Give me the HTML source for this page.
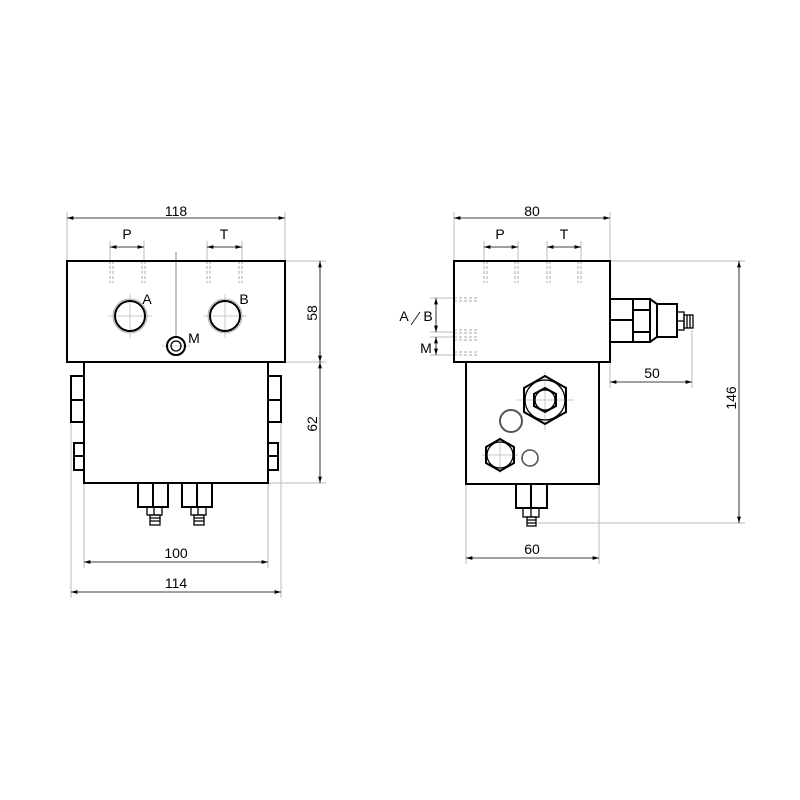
<!DOCTYPE html>
<html><head><style>body{margin:0;background:#fff}svg{display:block}</style></head><body>
<svg width="800" height="800" viewBox="0 0 800 800" xmlns="http://www.w3.org/2000/svg" font-family="Liberation Sans, sans-serif" font-size="14">
<defs>
<marker id="a" viewBox="0 0 10 6" refX="10" refY="3" markerWidth="8" markerHeight="5" orient="auto-start-reverse"><path d="M0,0L10,3L0,6z" fill="#000"/></marker>
</defs>
<rect width="800" height="800" fill="#fff"/>
<g stroke="#bbb" stroke-width="1" fill="none">
<line x1="67" y1="212" x2="67" y2="261"/><line x1="285" y1="212" x2="285" y2="261"/>
<line x1="285" y1="261" x2="326" y2="261"/><line x1="285" y1="362" x2="326" y2="362"/><line x1="268" y1="483" x2="326" y2="483"/>
<line x1="84" y1="483" x2="84" y2="568"/><line x1="268" y1="470" x2="268" y2="568"/>
<line x1="71" y1="422" x2="71" y2="598"/><line x1="281" y1="422" x2="281" y2="598"/>
<line x1="110" y1="241" x2="110" y2="261"/><line x1="144" y1="241" x2="144" y2="261"/>
<line x1="207" y1="241" x2="207" y2="261"/><line x1="242" y1="241" x2="242" y2="261"/>
<line x1="176" y1="252" x2="176" y2="338" stroke="#888"/>
<line x1="454" y1="212" x2="454" y2="261"/><line x1="610" y1="212" x2="610" y2="261"/>
<line x1="610" y1="261" x2="745" y2="261"/><line x1="538" y1="523" x2="745" y2="523"/>
<line x1="610" y1="362" x2="610" y2="388"/><line x1="692" y1="330" x2="692" y2="388"/>
<line x1="466" y1="484" x2="466" y2="564"/><line x1="599" y1="484" x2="599" y2="564"/>
<line x1="430" y1="298" x2="454" y2="298"/><line x1="430" y1="332" x2="454" y2="332"/>
<line x1="430" y1="337" x2="454" y2="337"/><line x1="430" y1="355" x2="454" y2="355"/>
<line x1="484" y1="241" x2="484" y2="261"/><line x1="518" y1="241" x2="518" y2="261"/>
<line x1="547" y1="241" x2="547" y2="261"/><line x1="581" y1="241" x2="581" y2="261"/>
</g>
<g stroke="#aaa" stroke-width="1" stroke-dasharray="3,2">
<path d="M110 261v22M113 261v22M142 261v22M145 261v22M207 261v22M210 261v22M239 261v22M242 261v22"/>
<path d="M484 261v22M487 261v22M515 261v22M518 261v22M547 261v22M550 261v22M578 261v22M581 261v22"/>
<path d="M454 298h23M454 301h23M454 330h23M454 333h23M454 337h23M454 340h23M454 352h23M454 355h23"/>
</g>
<g stroke="#000" stroke-width="0.8" marker-start="url(#a)" marker-end="url(#a)">
<line x1="67" y1="218" x2="285" y2="218"/>
<line x1="110" y1="247" x2="144" y2="247"/><line x1="207" y1="247" x2="242" y2="247"/>
<line x1="320" y1="261" x2="320" y2="362"/><line x1="320" y1="362" x2="320" y2="483"/>
<line x1="84" y1="562" x2="268" y2="562"/><line x1="71" y1="592" x2="281" y2="592"/>
<line x1="454" y1="218" x2="610" y2="218"/>
<line x1="484" y1="247" x2="518" y2="247"/><line x1="547" y1="247" x2="581" y2="247"/>
<line x1="436" y1="298" x2="436" y2="332"/><line x1="436" y1="337" x2="436" y2="355"/>
<line x1="610" y1="382" x2="692" y2="382"/>
<line x1="739" y1="261" x2="739" y2="523"/>
<line x1="466" y1="558" x2="599" y2="558"/>
</g>
<g stroke="#bbb" stroke-width="0.8">
<path d="M108 316h44M130 294v44M203 316h44M225 294v44M162 346h28"/>
<path d="M516 400h58M545 372v58M482 455h36M500 437v36"/>
</g>
<g stroke="#000" stroke-width="2" fill="none">
<rect x="67" y="261" width="218" height="101"/>
<rect x="84" y="362" width="184" height="121"/>
<rect x="71" y="376" width="13" height="46"/><line x1="71" y1="400" x2="84" y2="400"/>
<rect x="74" y="443" width="10" height="27"/><line x1="74" y1="456" x2="84" y2="456"/>
<rect x="268" y="376" width="13" height="46"/><line x1="268" y1="400" x2="281" y2="400"/>
<rect x="268" y="443" width="10" height="27"/><line x1="268" y1="456" x2="278" y2="456"/>
<rect x="138" y="483" width="30" height="24"/><line x1="153" y1="483" x2="153" y2="507"/>
<rect x="182" y="483" width="30" height="24"/><line x1="197" y1="483" x2="197" y2="507"/>
<circle cx="130" cy="316" r="15"/><circle cx="225" cy="316" r="15"/>
<circle cx="176" cy="346" r="9"/>
<rect x="454" y="261" width="156" height="101"/>
<rect x="466" y="362" width="133" height="122"/>
<rect x="610" y="299" width="40" height="43"/><line x1="610" y1="320" x2="633" y2="320"/>
<line x1="633" y1="299" x2="633" y2="342"/><line x1="633" y1="310" x2="650" y2="310"/><line x1="633" y1="332" x2="650" y2="332"/>
<path d="M650 299L657 304V337L650 342"/>
<rect x="657" y="304" width="20" height="33"/>
<rect x="516" y="484" width="31" height="24"/><line x1="531" y1="484" x2="531" y2="508"/>
<polygon points="545,376 566,388 566,412 545,424 524,412 524,388"/>
<polygon points="545,388 556,394 556,406 545,412 534,406 534,394"/>
<polygon points="500,439 514,447 514,463 500,471 486,463 486,447"/>
</g>
<g stroke="#000" stroke-width="1.3" fill="none">
<circle cx="130" cy="316" r="17" stroke="#999" stroke-width="0.8"/><circle cx="225" cy="316" r="17" stroke="#999" stroke-width="0.8"/>
<circle cx="176" cy="346" r="5"/>
<circle cx="545" cy="400" r="20"/><circle cx="545" cy="400" r="10"/>
<circle cx="500" cy="455" r="13"/>
<circle cx="511" cy="421" r="11" stroke="#555" stroke-width="2"/>
<circle cx="530" cy="458" r="8" stroke="#555" stroke-width="1.6"/>
<rect x="147" y="507" width="15" height="8"/><line x1="154" y1="507" x2="154" y2="515"/>
<rect x="150" y="515" width="10" height="10"/><path d="M150 518h10M150 521h10"/>
<rect x="191" y="507" width="15" height="8"/><line x1="198" y1="507" x2="198" y2="515"/>
<rect x="194" y="515" width="10" height="10"/><path d="M194 518h10M194 521h10"/>
<rect x="523" y="508" width="16" height="9"/><line x1="531" y1="508" x2="531" y2="517"/>
<rect x="527" y="517" width="9" height="9"/><path d="M527 520h9M527 523h9"/>
<rect x="677" y="312" width="7" height="18"/><line x1="677" y1="321" x2="684" y2="321"/>
<rect x="684" y="315" width="9" height="13"/><path d="M687 315v13M690 315v13"/>
</g>
<line x1="411" y1="325" x2="420" y2="312" stroke="#000" stroke-width="0.8"/>
<g fill="#000" text-anchor="middle">
<text x="176" y="216">118</text><text x="127" y="239">P</text><text x="224" y="239">T</text>
<text x="147" y="304">A</text><text x="244" y="304">B</text><text x="194" y="343">M</text>
<text x="176" y="558">100</text><text x="176" y="588">114</text>
<text transform="translate(317,313) rotate(-90)">58</text>
<text transform="translate(317,424) rotate(-90)">62</text>
<text x="532" y="216">80</text><text x="500" y="239">P</text><text x="564" y="239">T</text>
<text x="404" y="321">A</text><text x="428" y="321">B</text><text x="426" y="353">M</text>
<text x="652" y="378">50</text><text x="532" y="554">60</text>
<text transform="translate(736,398) rotate(-90)">146</text>
</g>
</svg>
</body></html>
